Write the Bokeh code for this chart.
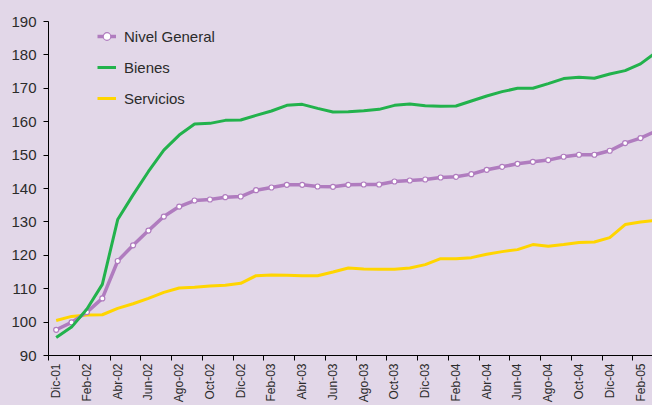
from bokeh.plotting import figure
from bokeh.models import Range1d, FixedTicker, Legend, LegendItem
from bokeh.embed import file_html
from bokeh.resources import INLINE

# ---- data ----
meses = ["Dic-01", "Ene-02", "Feb-02", "Mar-02", "Abr-02", "May-02", "Jun-02", "Jul-02",
         "Ago-02", "Sep-02", "Oct-02", "Nov-02", "Dic-02", "Ene-03", "Feb-03", "Mar-03",
         "Abr-03", "May-03", "Jun-03", "Jul-03", "Ago-03", "Sep-03", "Oct-03", "Nov-03",
         "Dic-03", "Ene-04", "Feb-04", "Mar-04", "Abr-04", "May-04", "Jun-04", "Jul-04",
         "Ago-04", "Sep-04", "Oct-04", "Nov-04", "Dic-04", "Ene-05", "Feb-05", "Mar-05"]

nivel_general = [97.7, 99.9, 103.0, 107.1, 118.3, 123.0, 127.4, 131.6, 134.6, 136.4,
                 136.7, 137.4, 137.6, 139.5, 140.3, 141.1, 141.1, 140.6, 140.5, 141.1,
                 141.2, 141.2, 142.1, 142.4, 142.7, 143.3, 143.5, 144.3, 145.6, 146.5,
                 147.4, 148.0, 148.5, 149.5, 150.1, 150.1, 151.3, 153.6, 155.1, 157.2]

bienes = [95.4, 98.5, 103.9, 111.3, 130.7, 138.1, 145.1, 151.5, 156.0, 159.3,
          159.5, 160.4, 160.5, 161.9, 163.2, 164.9, 165.2, 164.0, 162.9, 163.0,
          163.3, 163.7, 164.9, 165.3, 164.8, 164.6, 164.7, 166.2, 167.7, 169.0,
          170.0, 170.0, 171.4, 172.9, 173.3, 173.0, 174.3, 175.3, 177.3, 180.7]

servicios = [100.5, 101.7, 102.1, 102.2, 104.1, 105.5, 107.1, 108.9, 110.2, 110.4,
             110.8, 111.0, 111.6, 113.9, 114.1, 114.0, 113.9, 113.9, 115.0, 116.2,
             115.9, 115.8, 115.8, 116.2, 117.2, 119.0, 119.0, 119.3, 120.3, 121.1,
             121.7, 123.2, 122.7, 123.2, 123.8, 124.0, 125.3, 129.2, 130.0, 130.5]

y_ticks = [90, 100, 110, 120, 130, 140, 150, 160, 170, 180, 190]

# ---- style ----
BG = "#e2d7e8"
FONT = "Liberation Sans"
TXT = "#2b2b2b"
C_NIVEL = "#b07cbf"
C_BIENES = "#22b24c"
C_SERV = "#ffd500"

x = list(range(len(meses)))

p = figure(width=652, height=405, output_backend="svg", toolbar_location=None,
           x_range=Range1d(-0.5, 38.78), y_range=Range1d(90, 190),
           min_border_left=48, min_border_right=0, min_border_top=21, min_border_bottom=48)

p.background_fill_color = BG
p.border_fill_color = BG
p.outline_line_color = None
p.xgrid.visible = False
p.ygrid.visible = False

r_s = p.line(x, servicios, line_color=C_SERV, line_width=3)
r_n = p.line(x, nivel_general, line_color=C_NIVEL, line_width=3.5)
r_np = p.scatter(x, nivel_general, size=5, marker="circle", fill_color="white",
                 line_color=C_NIVEL, line_width=1.2)
r_b = p.line(x, bienes, line_color=C_BIENES, line_width=3)

# y axis
p.yaxis.ticker = FixedTicker(ticks=y_ticks)
p.yaxis.major_tick_out = 5
p.yaxis.major_tick_in = 0
p.yaxis.minor_tick_line_color = None
p.yaxis.major_label_standoff = 7
p.yaxis.axis_line_color = "black"
p.yaxis.major_tick_line_color = "black"
p.yaxis.major_label_text_font = FONT
p.yaxis.major_label_text_font_size = "15px"
p.yaxis.major_label_text_color = TXT

# x axis: labels at every second month, ticks at category boundaries
lab_idx = x[::2]
p.xaxis.ticker = FixedTicker(ticks=lab_idx, minor_ticks=[k - 0.5 for k in lab_idx])
p.xaxis.major_label_overrides = {k: meses[k] for k in lab_idx}
p.xaxis.major_label_orientation = 3.14159265 / 2
p.xaxis.major_tick_line_color = None
p.xaxis.major_tick_out = 5
p.xaxis.major_tick_in = 0
p.xaxis.minor_tick_line_color = "black"
p.xaxis.minor_tick_out = 5
p.xaxis.minor_tick_in = 0
p.xaxis.major_label_standoff = 3
p.xaxis.axis_line_color = "black"
p.xaxis.major_label_text_font = FONT
p.xaxis.major_label_text_font_size = "12px"
p.xaxis.major_label_text_color = TXT

legend = Legend(items=[LegendItem(label="Nivel General", renderers=[r_n, r_np]),
                       LegendItem(label="Bienes", renderers=[r_b]),
                       LegendItem(label="Servicios", renderers=[r_s])],
                location=(49, 247), orientation="vertical",
                background_fill_alpha=0, border_line_color=None,
                padding=0, margin=0, spacing=11,
                glyph_width=19, glyph_height=20, label_height=20, label_standoff=8,
                label_text_font=FONT, label_text_font_size="15px", label_text_color=TXT)
p.add_layout(legend)

try:
    from bokeh.models import GlobalInlineStyleSheet
    p.stylesheets = [GlobalInlineStyleSheet(css="body{background:%s;}" % BG)]
except Exception:
    pass

open("out.html", "w").write(file_html(p, INLINE))
